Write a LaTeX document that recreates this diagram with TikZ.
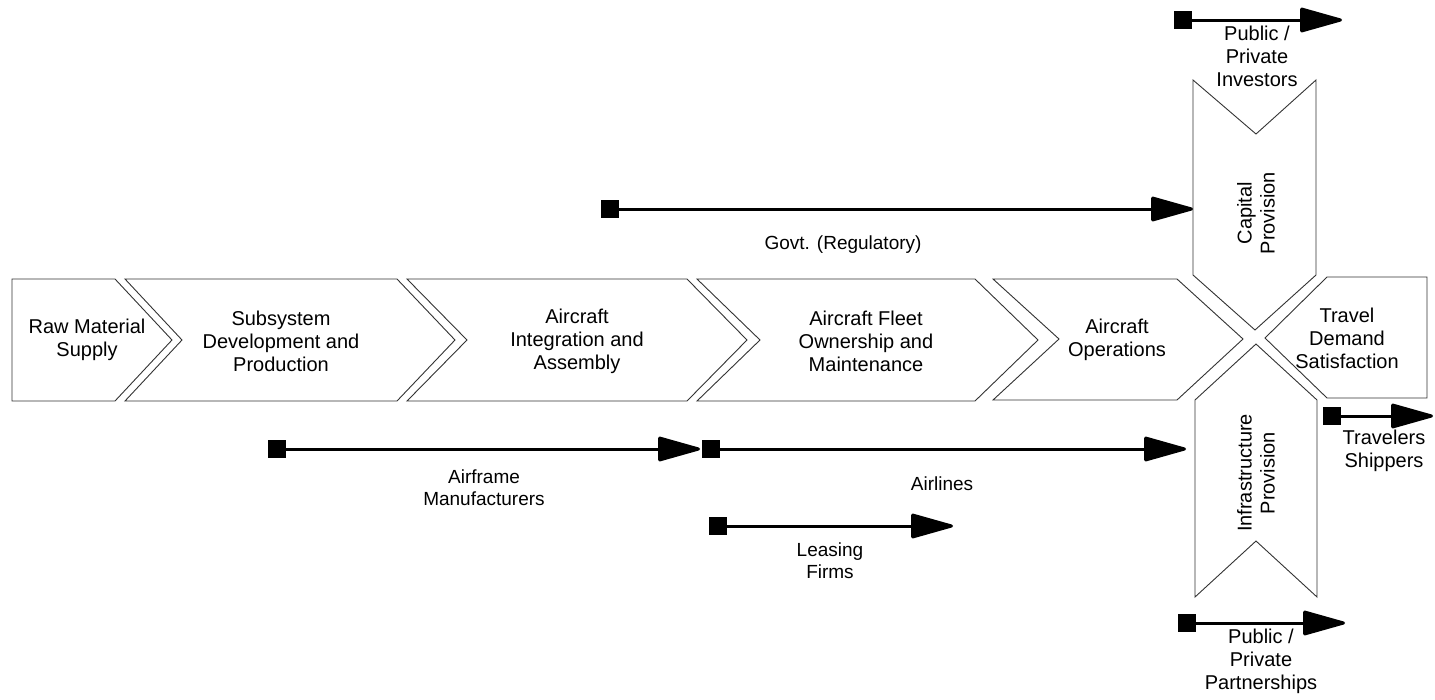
\documentclass[tikz,border=0pt]{standalone}
\usepackage{fontspec}
\setmainfont{Liberation Sans}
\usetikzlibrary{arrows.meta}
\begin{document}
\begin{tikzpicture}[x=1pt,y=-1pt,
  shp/.style={draw=black!80, line width=0.9pt, line join=miter, fill=white},
  lbl/.style={font=\fontsize{20}{23}\selectfont, align=center, inner sep=0pt},
  albl/.style={font=\fontsize{19}{22}\selectfont, align=center, inner sep=0pt},
  flow/.style={line width=3pt, {Square[length=18pt,width=18pt]}-{Triangle[length=46pt,width=25pt,round]}}]
\useasboundingbox (0,0) rectangle (1435,699);
% value-chain shapes
\draw[shp] (12,279) -- (115,279) -- (172,340) -- (115,401) -- (12,401) -- cycle;
\draw[shp] (125,279) -- (397,279) -- (455,340) -- (397,401) -- (125,401) -- (182,340) -- cycle;
\draw[shp] (407,279) -- (687,279) -- (747,340) -- (687,401) -- (407,401) -- (467,340) -- cycle;
\draw[shp] (697,279) -- (975,279) -- (1038,340) -- (975,401) -- (697,401) -- (760,340) -- cycle;
\draw[shp] (993,279) -- (1177,279) -- (1243,339) -- (1177,400) -- (993,400) -- (1059,339) -- cycle;
\draw[shp] (1265,338) -- (1327,277) -- (1427,277) -- (1427,398) -- (1327,398) -- cycle;
\draw[shp] (1193,80) -- (1256,134) -- (1316,80) -- (1316,275) -- (1255,330) -- (1193,275) -- cycle;
\draw[shp] (1256,344) -- (1317,400) -- (1317,597) -- (1256,541) -- (1195,597) -- (1195,400) -- cycle;
% shape labels
\node[lbl] (raw) at (87,340) {Raw Material\\Supply};
\node[lbl] (sub) at (281,341) {Subsystem\\Development and\\Production};
\node[lbl] (int) at (577,341) {Aircraft\\Integration and\\Assembly};
\node[lbl] (fleet) at (866,341) {Aircraft Fleet\\Ownership and\\Maintenance};
\node[lbl] (ops) at (1117,340) {Aircraft\\Operations};
\node[lbl] (travel) at (1347,338) {Travel\\Demand\\Satisfaction};
\node[lbl, rotate=90] (cap) at (1256,213) {Capital\\Provision};
\node[lbl, rotate=90] (infra) at (1256,473) {Infrastructure\\Provision};
% actor arrows
\coordinate (g0) at (601,209);  \coordinate (g1) at (1193,209);
\coordinate (a0) at (268,449);  \coordinate (a1) at (700,449);
\coordinate (l0) at (702,449);  \coordinate (l1) at (1186,449);
\coordinate (f0) at (709,526);  \coordinate (f1) at (953,526);
\coordinate (i0) at (1174,20);  \coordinate (i1) at (1342,20);
\coordinate (t0) at (1323,416); \coordinate (t1) at (1433,416);
\coordinate (p0) at (1178,623); \coordinate (p1) at (1345,623);
\draw[flow] (g0) -- (g1);
\draw[flow] (a0) -- (a1);
\draw[flow] (l0) -- (l1);
\draw[flow] (f0) -- (f1);
\draw[flow] (i0) -- (i1);
\draw[flow] (t0) -- (t1);
\draw[flow] (p0) -- (p1);
% actor labels
\node[albl] (govt) at (843,245) {Govt. (Regulatory)};
\node[albl] (airframe) at (484,488) {Airframe\\Manufacturers};
\node[albl] (airlines) at (942,484) {Airlines};
\node[albl] (leasing) at (830,561) {Leasing\\Firms};
\node[lbl] (investors) at (1257,56) {Public /\\Private\\Investors};
\node[lbl] (travelers) at (1384,451) {Travelers\\Shippers};
\node[lbl] (partners) at (1261,661) {Public /\\Private\\Partnerships};
\end{tikzpicture}
\end{document}
